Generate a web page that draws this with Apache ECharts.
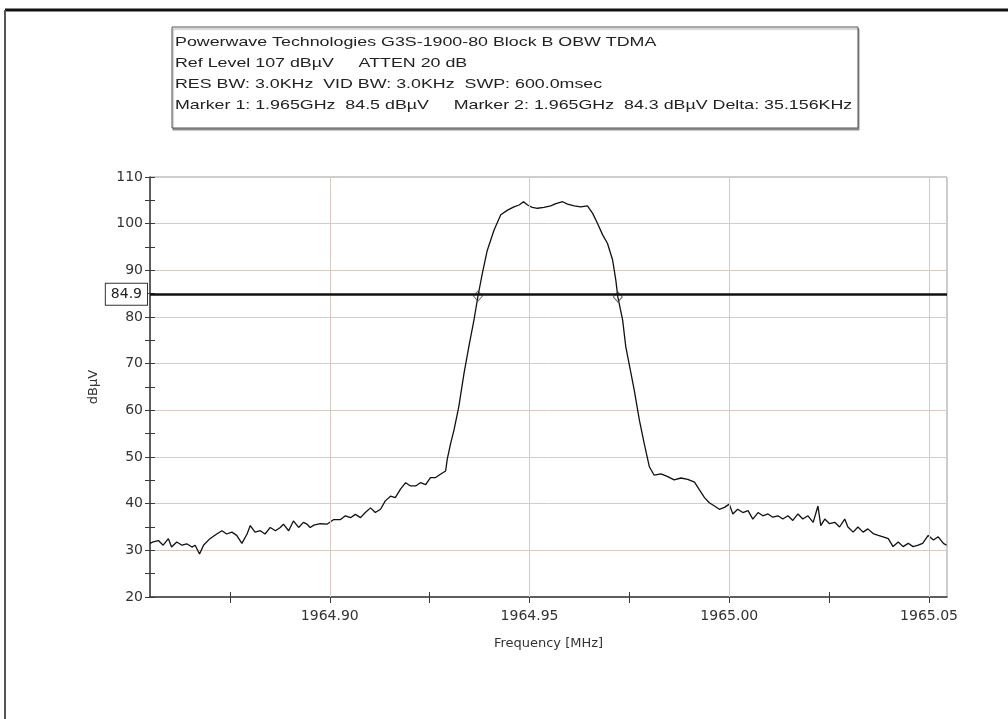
<!DOCTYPE html>
<html>
<head>
<meta charset="utf-8">
<script src="https://cdn.jsdelivr.net/npm/echarts@6/dist/echarts.min.js"></script>
<style>html,body{margin:0;padding:0;background:#fff;}#c{width:1008px;height:719px;}</style>
</head>
<body>
<div id="c"></div>
<script>
const headerLines = [
  'Powerwave Technologies G3S-1900-80 Block B OBW TDMA',
  'Ref Level 107 dBµV     ATTEN 20 dB',
  'RES BW: 3.0KHz  VID BW: 3.0KHz  SWP: 600.0msec',
  'Marker 1: 1.965GHz  84.5 dBµV     Marker 2: 1.965GHz  84.3 dBµV Delta: 35.156KHz'
];
const xName = 'Frequency [MHz]';
const yName = 'dBµV';
const xMin = 1964.855, xMax = 1965.0545;
const yMin = 20, yMax = 110, yStep = 10;
const xLabelTicks = [1964.90, 1964.95, 1965.00, 1965.05];
const xAllTicks = [1964.875, 1964.90, 1964.925, 1964.95, 1964.975, 1965.00, 1965.025, 1965.05];
const refLevel = 84.9;
const markerFreqs = [1964.9371, 1964.9721];
const markerLevels = [84.5, 84.3];

const freqs = [
1964.8550,1964.8558,1964.8571,1964.8583,1964.8596,1964.8604,1964.8617,1964.8630,1964.8642,1964.8655,
1964.8663,1964.8674,1964.8684,1964.8700,1964.8717,1964.8730,1964.8742,1964.8755,1964.8767,1964.8780,
1964.8793,1964.8801,1964.8813,1964.8826,1964.8838,1964.8851,1964.8864,1964.8876,1964.8884,1964.8897,
1964.8909,1964.8922,1964.8934,1964.8943,1964.8951,1964.8960,1964.8976,1964.8993,1964.9010,1964.9027,
1964.9039,1964.9052,1964.9064,1964.9077,1964.9089,1964.9102,1964.9114,1964.9127,1964.9139,1964.9152,
1964.9164,1964.9177,1964.9190,1964.9202,1964.9215,1964.9227,1964.9240,1964.9252,1964.9265,1964.9277,
1964.9290,1964.9294,1964.9302,1964.9311,1964.9323,1964.9336,1964.9348,1964.9361,1964.9371,1964.9382,
1964.9394,1964.9411,1964.9428,1964.9445,1964.9461,1964.9474,1964.9485,1964.9495,1964.9507,1964.9520,
1964.9536,1964.9553,1964.9566,1964.9583,1964.9595,1964.9612,1964.9628,1964.9645,1964.9658,1964.9670,
1964.9683,1964.9695,1964.9708,1964.9716,1964.9721,1964.9733,1964.9741,1964.9754,1964.9762,1964.9775,
1964.9787,1964.9800,1964.9812,1964.9829,1964.9846,1964.9862,1964.9879,1964.9896,1964.9913,1964.9925,
1964.9938,1964.9950,1964.9963,1964.9975,1964.9988,1965.0000,1965.0009,1965.0021,1965.0034,1965.0047,
1965.0059,1965.0072,1965.0084,1965.0097,1965.0109,1965.0122,1965.0134,1965.0147,1965.0159,1965.0172,
1965.0184,1965.0197,1965.0210,1965.0222,1965.0229,1965.0239,1965.0251,1965.0264,1965.0276,1965.0289,
1965.0297,1965.0310,1965.0322,1965.0335,1965.0347,1965.0360,1965.0373,1965.0385,1965.0398,1965.0410,
1965.0423,1965.0435,1965.0448,1965.0460,1965.0473,1965.0484,1965.0498,1965.0511,1965.0523,1965.0536,
1965.0544
];
const levels = [
31.5,31.8,32.1,31.1,32.5,30.7,31.8,31.1,31.4,30.7,
31.1,29.2,31.1,32.5,33.5,34.2,33.5,33.9,33.2,31.5,
33.5,35.3,33.9,34.2,33.5,34.9,34.2,34.9,35.6,34.2,
36.3,34.9,36.0,35.6,34.9,35.4,35.7,35.6,36.6,36.6,
37.4,37.0,37.7,37.0,38.1,39.1,38.1,38.8,40.6,41.6,
41.3,43.1,44.5,43.8,43.8,44.5,44.1,45.6,45.6,46.3,
47.0,49.5,52.7,55.8,60.8,67.9,73.6,79.4,84.5,89.4,
94.2,98.6,101.9,102.9,103.6,104.0,104.7,104.0,103.5,103.3,
103.5,103.8,104.3,104.7,104.2,103.8,103.6,103.8,102.2,100.1,
97.6,95.8,92.2,87.9,84.3,79.4,73.6,67.9,64.4,57.9,
52.9,47.9,46.1,46.4,45.8,45.1,45.5,45.2,44.6,43.0,
41.3,40.2,39.5,38.8,39.2,39.9,37.8,38.8,38.1,38.5,
36.7,38.1,37.4,37.8,37.1,37.4,36.7,37.4,36.4,37.8,
36.7,37.4,36.0,39.5,35.3,36.7,35.7,36.0,35.0,36.7,
35.0,33.9,35.0,33.9,34.6,33.6,33.2,32.9,32.5,30.8,
31.8,30.8,31.5,30.8,31.1,31.5,33.2,32.2,32.9,31.5,
31.1
];

const FONT = '"Liberation Sans", Arial, sans-serif';
const WFONT = '"DejaVu Sans", sans-serif';
const GRIDC = '#dacbc2';
const AXC = '#3a3a3a';

const trace = freqs.map((f, i) => [f, levels[i]]);
const markers = markerFreqs.map((f, i) => [f, markerLevels[i]]);

const chart = echarts.init(document.getElementById('c'), null, {renderer: 'canvas'});

const baseX = {type: 'value', min: xMin, max: xMax, position: 'bottom'};
const baseY = {type: 'value', min: yMin, max: yMax, interval: yStep, position: 'left'};

const headerGraphics = [
  {type: 'line', shape: {x1: 5, y1: 10, x2: 1008, y2: 10}, style: {stroke: '#111', lineWidth: 3}, silent: true},
  {type: 'line', shape: {x1: 5, y1: 10, x2: 5, y2: 719}, style: {stroke: '#555', lineWidth: 2}, silent: true},
  {type: 'rect', shape: {x: 172, y: 27, width: 686, height: 101}, style: {fill: '#fff', stroke: '#555', lineWidth: 1, shadowColor: 'rgba(0,0,0,0.35)', shadowOffsetX: 1, shadowOffsetY: 2, shadowBlur: 1}, silent: true}
].concat(headerLines.map((t, i) => ({
  type: 'text', x: 175, y: 42 + i * 21, scaleX: 1.32, scaleY: 1,
  style: {text: t, font: '13.5px ' + FONT, fill: '#222', verticalAlign: 'middle', align: 'left'},
  silent: true
})));

chart.setOption({
  animation: false,
  backgroundColor: '#fff',
  grid: {left: 150, top: 177, width: 797, height: 420, show: true, borderColor: '#9a9a9a', borderWidth: 1, containLabel: false},
  graphic: headerGraphics,
  xAxis: [
    Object.assign({}, baseX, {
      name: xName, nameLocation: 'middle', nameGap: 40,
      nameTextStyle: {fontFamily: WFONT, fontSize: 13, color: '#333'},
      axisLine: {show: true, lineStyle: {color: AXC, width: 1.5}},
      axisTick: {show: true, inside: false, length: 6, customValues: xAllTicks, lineStyle: {color: AXC}},
      axisLabel: {show: true, customValues: xLabelTicks, margin: 12, fontFamily: WFONT, fontSize: 14, color: '#333',
        formatter: v => Number(v).toFixed(2)},
      splitLine: {show: false}
    }),
    Object.assign({}, baseX, {
      axisLine: {show: false},
      axisTick: {show: true, inside: true, length: 5, customValues: xAllTicks, lineStyle: {color: AXC}},
      axisLabel: {show: false},
      splitLine: {show: false}
    })
  ],
  yAxis: [
    Object.assign({}, baseY, {
      name: yName, nameLocation: 'middle', nameGap: 50, nameRotate: 90,
      nameTextStyle: {fontFamily: WFONT, fontSize: 13, color: '#333'},
      axisLine: {show: true, lineStyle: {color: AXC, width: 1.5}},
      axisTick: {show: true, inside: false, length: 5, lineStyle: {color: AXC}},
      minorTick: {show: true, splitNumber: 2, length: 5, lineStyle: {color: AXC}},
      axisLabel: {show: true, margin: 7, fontFamily: WFONT, fontSize: 14, color: '#333'},
      splitLine: {show: true, lineStyle: {color: GRIDC, width: 1}}
    }),
    Object.assign({}, baseY, {
      axisLine: {show: false},
      axisTick: {show: true, inside: true, length: 5, lineStyle: {color: AXC}},
      minorTick: {show: true, splitNumber: 2, length: 5, lineStyle: {color: AXC}},
      axisLabel: {show: false},
      splitLine: {show: false}
    })
  ],
  series: [
    {
      type: 'line', data: [], z: 1, silent: true,
      markLine: {
        silent: true, symbol: 'none', animation: false,
        label: {show: false},
        lineStyle: {color: GRIDC, type: 'solid', width: 1},
        data: xLabelTicks.map(v => ({xAxis: v}))
      }
    },
    {
      type: 'line', data: trace, z: 3, silent: true,
      showSymbol: false, symbol: 'none',
      lineStyle: {color: '#111', width: 1.3},
      markLine: {
        silent: true, symbol: 'none', animation: false,
        lineStyle: {color: '#111', type: 'solid', width: 2.5},
        label: {
          show: true, position: 'start', distance: 3,
          formatter: () => String(refLevel),
          fontFamily: WFONT, fontSize: 14, color: '#222',
          backgroundColor: '#fff', borderColor: '#333', borderWidth: 1, padding: [4, 5, 3, 5]
        },
        data: [{yAxis: refLevel}]
      }
    },
    {
      type: 'scatter', data: markers, z: 4, silent: true,
      symbol: 'diamond', symbolSize: [9, 10],
      itemStyle: {color: 'rgba(0,0,0,0)', borderColor: '#444', borderWidth: 1}
    }
  ]
});
</script>
</body>
</html>
